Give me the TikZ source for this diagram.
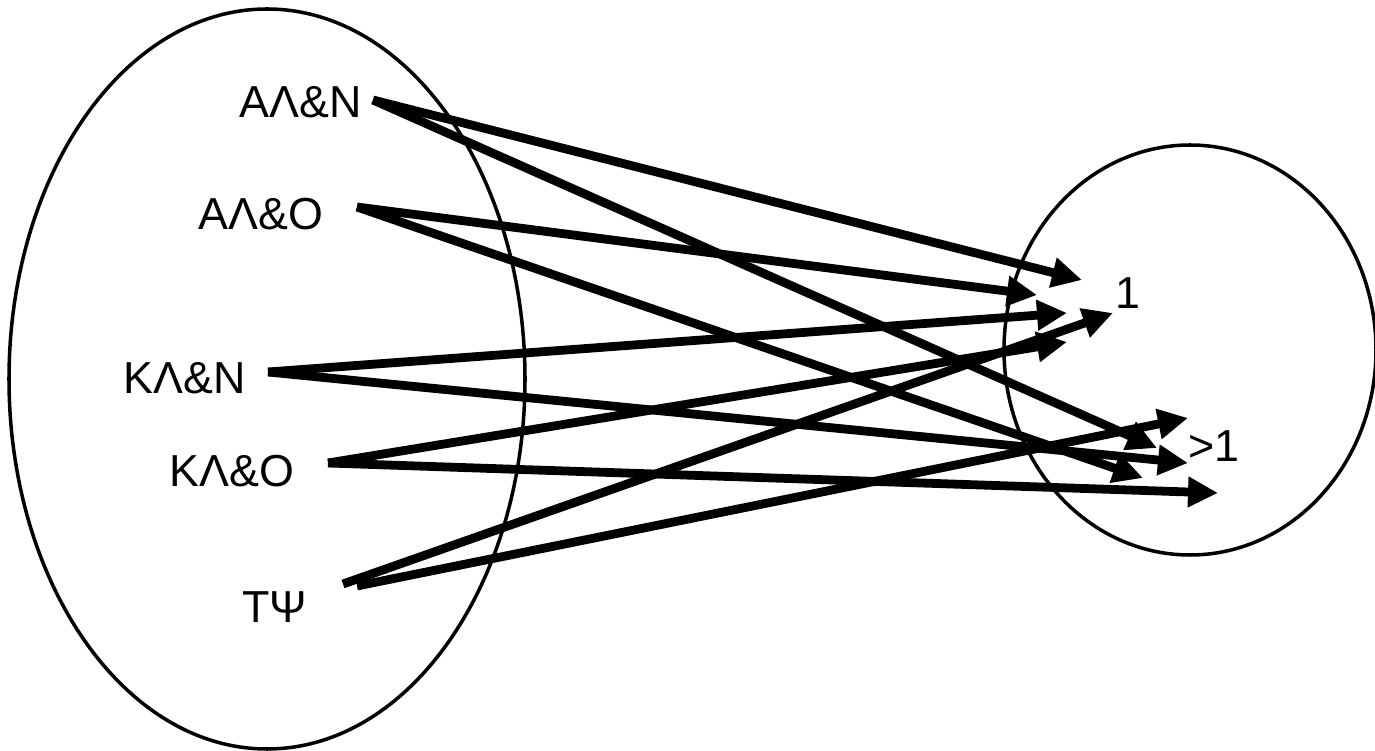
\documentclass[tikz,border=0pt]{standalone}
\usepackage{fontspec}
\setmainfont{Liberation Sans}
\usetikzlibrary{shapes.geometric, arrows.meta}
\tikzset{
  setshape/.style = {
    ellipse, draw=black, line width=2pt, inner sep=0pt
  },
  member/.style = {
    font=\fontsize{25.5}{29}\selectfont, inner sep=0pt
  },
  count/.style = {
    font=\fontsize{25.5}{29}\selectfont, inner sep=0pt
  },
  link/.style = {
    draw=black, line width=5pt,
    -{Triangle[length=0.6cm, width=0.58cm]}
  }
}
\begin{document}
\begin{tikzpicture}

    \useasboundingbox (0,0) rectangle (27.5,-15.02);

    % ------------------------------------------------------------- Sets
    \node [setshape, minimum width=10.32cm, minimum height=14.8cm] (domain) at (5.34,-7.58) {};
    \node [setshape, minimum width=7.44cm,  minimum height=8.2cm]  (range)  at (23.8,-7.0)  {};

    % ---------------------------------------------------------- Members
    \node [member] (anl) at (6.02, -2.04)  {AΛ\&N};
    \node [member] (aol) at (5.22, -4.28)  {AΛ\&O};
    \node [member] (knl) at (3.70, -7.56)  {KΛ\&N};
    \node [member] (kol) at (4.64, -9.42)  {KΛ\&O};
    \node [member] (tps) at (5.50, -12.14) {TΨ};

    % ----------------------------------------------------------- Counts
    \node [count] (one)  at (22.56,-5.86) {1};
    \node [count] (more) at (24.28,-8.92) {>1};

    % ---------------------------------------------------- Arrow origins
    \coordinate (anl-out)  at (7.46, -2.00);
    \coordinate (aol-out)  at (7.14, -4.14);
    \coordinate (knl-out)  at (5.36, -7.44);
    \coordinate (kol-out)  at (6.56, -9.26);
    \coordinate (tps-outa) at (6.86, -11.68);
    \coordinate (tps-outb) at (7.14, -11.72);

    % ------------------------------------------------------- Arrow tips
    \coordinate (one-a)  at (21.64,-5.60);
    \coordinate (one-b)  at (20.74,-5.90);
    \coordinate (one-c)  at (21.34,-6.26);
    \coordinate (one-d)  at (22.26,-6.26);
    \coordinate (one-e)  at (21.34,-6.84);
    \coordinate (more-a) at (23.76,-8.36);
    \coordinate (more-b) at (23.14,-8.96);
    \coordinate (more-c) at (23.76,-9.26);
    \coordinate (more-d) at (22.86,-9.56);
    \coordinate (more-e) at (24.36,-9.86);

    % ------------------------------------------------------- Mapping
    \draw [link] (anl-out)  -- (one-a);
    \draw [link] (anl-out)  -- (more-b);
    \draw [link] (aol-out)  -- (one-b);
    \draw [link] (aol-out)  -- (more-d);
    \draw [link] (knl-out)  -- (one-c);
    \draw [link] (knl-out)  -- (more-c);
    \draw [link] (kol-out)  -- (one-e);
    \draw [link] (kol-out)  -- (more-e);
    \draw [link] (tps-outa) -- (one-d);
    \draw [link] (tps-outb) -- (more-a);

\end{tikzpicture}
\end{document}
